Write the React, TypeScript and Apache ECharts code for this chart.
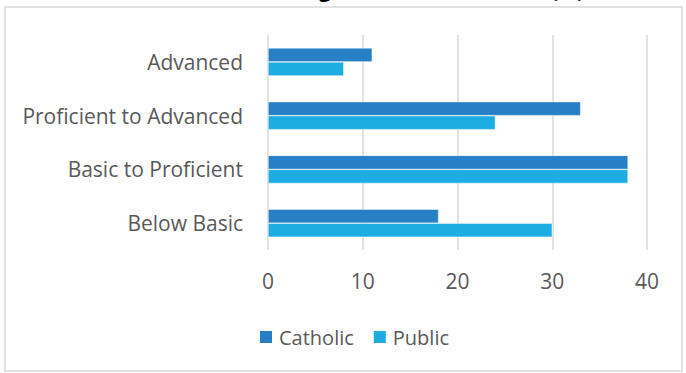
import React, { useEffect, useRef } from "react";
import * as echarts from "echarts";

const categories = ["Below Basic", "Basic to Proficient", "Proficient to Advanced", "Advanced"];
const catholicValues = [18, 38, 33, 11];
const publicValues = [30, 38, 24, 8];
const xTicks = [0, 10, 20, 30, 40];
const titleText = "Fourth Grade Reading Achievement Levels (%)";

const FONT = "'Open Sans', sans-serif";
const TEXT_COLOR = "#595959";

export default function App() {
  const ref = useRef<HTMLDivElement>(null);

  useEffect(() => {
    if (!ref.current) return;
    const chart = echarts.init(ref.current, undefined, { renderer: "svg" });
    chart.setOption({
      animation: false,
      backgroundColor: "#ffffff",
      title: {
        text: titleText,
        left: "center",
        top: -27,
        textStyle: { fontFamily: FONT, fontWeight: "bold", fontSize: 21, color: "#000000" },
      },
      graphic: [
        {
          type: "rect",
          shape: { x: 5, y: 7, width: 677, height: 364 },
          style: { fill: "none", stroke: "#D9D9D9", lineWidth: 1.5 },
          silent: true,
          z: -1,
        },
      ],
      legend: {
        data: ["Catholic", "Public"],
        left: 253,
        top: 322,
        itemWidth: 14,
        itemHeight: 14,
        itemGap: 18,
        icon: "rect",
        textStyle: { fontFamily: FONT, fontSize: 20, color: TEXT_COLOR, padding: [0, 0, 0, 1] },
      },
      grid: { left: 268, right: 39, top: 35, bottom: 123, containLabel: false },
      xAxis: {
        type: "value",
        min: xTicks[0],
        max: xTicks[xTicks.length - 1],
        interval: 10,
        axisLine: { show: false },
        axisTick: { show: false },
        splitLine: { show: true, lineStyle: { color: "#D9D9D9", width: 1.5 } },
        axisLabel: { fontFamily: FONT, fontSize: 21, color: TEXT_COLOR, margin: 20 },
      },
      yAxis: {
        type: "category",
        data: categories,
        axisLine: { show: false },
        axisTick: { show: false },
        axisLabel: { fontFamily: FONT, fontSize: 21, color: TEXT_COLOR, margin: 25 },
      },
      series: [
        {
          name: "Catholic",
          type: "bar",
          data: catholicValues,
          barWidth: 14,
          barGap: "0%",
          itemStyle: { color: "#2780C6", borderColor: "#ffffff", borderWidth: 0.5 },
        },
        {
          name: "Public",
          type: "bar",
          data: publicValues,
          barWidth: 14,
          barGap: "0%",
          itemStyle: { color: "#1EADE2", borderColor: "#ffffff", borderWidth: 0.5 },
        },
      ],
    });
    return () => chart.dispose();
  }, []);

  return (
    <div
      ref={ref}
      style={{ position: "fixed", left: 0, top: 0, width: 686, height: 373 }}
    />
  );
}
